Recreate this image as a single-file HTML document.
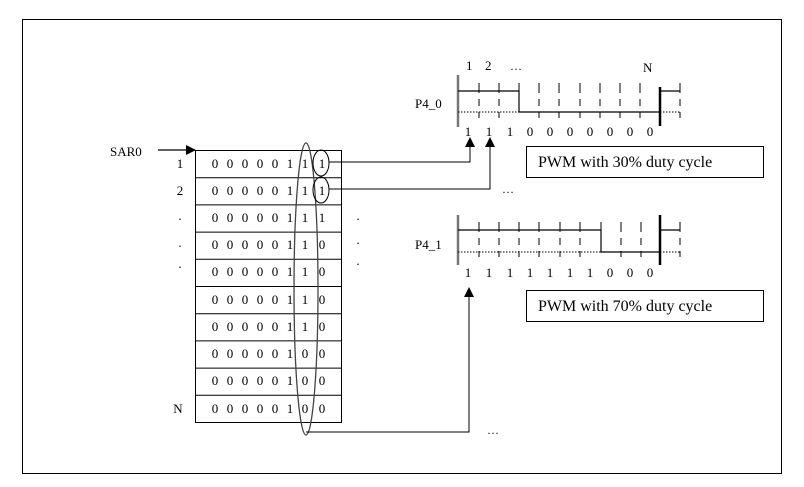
<!DOCTYPE html>
<html><head><style>
body{margin:0;background:#fff;}
svg{display:block;}
text{font-family:"Liberation Serif",serif;fill:#000;}
</style></head><body>
<svg width="804" height="487" viewBox="0 0 804 487" xmlns="http://www.w3.org/2000/svg">
<defs>
<marker id="ah" markerWidth="10" markerHeight="10" refX="9" refY="5" orient="auto" markerUnits="userSpaceOnUse">
<path d="M0,0 L10,5 L0,10 z" fill="#000"/>
</marker>
</defs>
<rect x="22.5" y="19.5" width="759" height="454" fill="none" stroke="#000" stroke-width="1"/>

<!-- SAR0 -->
<text x="110" y="156" font-size="13">SAR0</text>
<line x1="158" y1="150" x2="195" y2="150" stroke="#000" stroke-width="1.2" marker-end="url(#ah)"/>

<!-- table -->
<g stroke="#000" stroke-width="1" fill="none">
<rect x="195.5" y="150.5" width="146" height="272"/>
<line x1="195" y1="177.7" x2="341" y2="177.7"/>
<line x1="195" y1="204.9" x2="341" y2="204.9"/>
<line x1="195" y1="232.1" x2="341" y2="232.1"/>
<line x1="195" y1="259.3" x2="341" y2="259.3"/>
<line x1="195" y1="286.5" x2="341" y2="286.5"/>
<line x1="195" y1="313.7" x2="341" y2="313.7"/>
<line x1="195" y1="340.9" x2="341" y2="340.9"/>
<line x1="195" y1="368.1" x2="341" y2="368.1"/>
<line x1="195" y1="395.3" x2="341" y2="395.3"/>
</g>
<g font-size="13" text-anchor="middle">
<text x="180" y="168">1</text><text x="180" y="195">2</text>
<text x="180" y="220">.</text><text x="180" y="247">.</text><text x="180" y="268">.</text>
<text x="178" y="413">N</text>
<text x="358" y="220">.</text><text x="358" y="244">.</text><text x="358" y="265">.</text>
</g>
<g font-size="13" text-anchor="middle" id="rows">
<!-- rows -->
</g>
<g font-size="13" text-anchor="middle">
<!-- row texts generated inline -->
<g transform="translate(0,168)"><text x="215">0</text><text x="230">0</text><text x="245">0</text><text x="260">0</text><text x="275">0</text><text x="290">1</text><text x="305">1</text><text x="322">1</text></g>
<g transform="translate(0,195)"><text x="215">0</text><text x="230">0</text><text x="245">0</text><text x="260">0</text><text x="275">0</text><text x="290">1</text><text x="305">1</text><text x="322">1</text></g>
<g transform="translate(0,222)"><text x="215">0</text><text x="230">0</text><text x="245">0</text><text x="260">0</text><text x="275">0</text><text x="290">1</text><text x="305">1</text><text x="322">1</text></g>
<g transform="translate(0,249)"><text x="215">0</text><text x="230">0</text><text x="245">0</text><text x="260">0</text><text x="275">0</text><text x="290">1</text><text x="305">1</text><text x="322">0</text></g>
<g transform="translate(0,276)"><text x="215">0</text><text x="230">0</text><text x="245">0</text><text x="260">0</text><text x="275">0</text><text x="290">1</text><text x="305">1</text><text x="322">0</text></g>
<g transform="translate(0,304)"><text x="215">0</text><text x="230">0</text><text x="245">0</text><text x="260">0</text><text x="275">0</text><text x="290">1</text><text x="305">1</text><text x="322">0</text></g>
<g transform="translate(0,331)"><text x="215">0</text><text x="230">0</text><text x="245">0</text><text x="260">0</text><text x="275">0</text><text x="290">1</text><text x="305">1</text><text x="322">0</text></g>
<g transform="translate(0,358)"><text x="215">0</text><text x="230">0</text><text x="245">0</text><text x="260">0</text><text x="275">0</text><text x="290">1</text><text x="305">0</text><text x="322">0</text></g>
<g transform="translate(0,385)"><text x="215">0</text><text x="230">0</text><text x="245">0</text><text x="260">0</text><text x="275">0</text><text x="290">1</text><text x="305">0</text><text x="322">0</text></g>
<g transform="translate(0,413)"><text x="215">0</text><text x="230">0</text><text x="245">0</text><text x="260">0</text><text x="275">0</text><text x="290">1</text><text x="305">0</text><text x="322">0</text></g>
</g>

<!-- ellipses -->
<ellipse cx="306" cy="289" rx="12" ry="146" fill="none" stroke="#444" stroke-width="1.3"/>
<ellipse cx="321" cy="163" rx="8" ry="13" fill="none" stroke="#000" stroke-width="1"/>
<ellipse cx="321" cy="190" rx="8" ry="13" fill="none" stroke="#000" stroke-width="1"/>

<!-- connectors -->
<g stroke="#000" stroke-width="1" fill="none">
<polyline points="329,162 470,162 470,138" marker-end="url(#ah)"/>
<polyline points="329,189 490,189 490,138" marker-end="url(#ah)"/>
<polyline points="306,432 469,432 469,288" marker-end="url(#ah)"/>
</g>
<text x="502" y="193" font-size="12">…</text>
<text x="487" y="434" font-size="12">…</text>

<!-- P4_0 -->
<text x="466" y="70" font-size="13">1</text>
<text x="485" y="70" font-size="13">2</text>
<text x="510" y="70" font-size="12">…</text>
<text x="643" y="72" font-size="13">N</text>
<text x="415" y="108" font-size="13">P4_0</text>
<g stroke="#000" fill="none">
<line x1="458" y1="75" x2="458" y2="127" stroke="#777" stroke-width="2.5"/>
<line x1="660" y1="87" x2="660" y2="126" stroke-width="2.5"/>
<polyline points="458,91 519,91 519,112 660,112" stroke-width="1.2"/>
<line x1="458" y1="112" x2="519" y2="112" stroke-dasharray="1.5,1.5"/>
<line x1="660" y1="91" x2="680" y2="91" stroke-width="1.2"/>
<line x1="660" y1="112" x2="680" y2="112" stroke-dasharray="1.5,1.5"/>
<g stroke-width="1" stroke-dasharray="10,6,7,6,6">
<line x1="479" y1="83" x2="479" y2="120"/><line x1="499" y1="83" x2="499" y2="120"/>
<line x1="539" y1="83" x2="539" y2="120"/><line x1="559" y1="83" x2="559" y2="120"/>
<line x1="580" y1="83" x2="580" y2="120"/><line x1="600" y1="83" x2="600" y2="120"/>
<line x1="620" y1="83" x2="620" y2="120"/><line x1="640" y1="83" x2="640" y2="120"/>
<line x1="680" y1="83" x2="680" y2="120"/>
<line x1="519" y1="83" x2="519" y2="91"/>
</g>
</g>
<g font-size="13" text-anchor="middle" transform="translate(0,136)">
<text x="468">1</text><text x="489">1</text><text x="510">1</text><text x="530">0</text><text x="550">0</text><text x="570">0</text><text x="590">0</text><text x="610">0</text><text x="630">0</text><text x="650">0</text>
</g>
<rect x="526.5" y="146.5" width="237" height="31" fill="none" stroke="#000"/>
<text x="538" y="167" font-size="16">PWM with 30% duty cycle</text>

<!-- P4_1 -->
<text x="415" y="249" font-size="13">P4_1</text>
<g stroke="#000" fill="none">
<line x1="458" y1="215" x2="458" y2="265" stroke="#777" stroke-width="2.5"/>
<line x1="660" y1="215" x2="660" y2="265" stroke-width="2.5"/>
<polyline points="458,230 601,230 601,252 660,252" stroke-width="1.2"/>
<line x1="458" y1="252" x2="601" y2="252" stroke-dasharray="1.5,1.5"/>
<line x1="660" y1="230" x2="680" y2="230" stroke-width="1.2"/>
<line x1="660" y1="252" x2="680" y2="252" stroke-dasharray="1.5,1.5"/>
<g stroke-width="1" stroke-dasharray="10,6,7,6,6">
<line x1="479" y1="222" x2="479" y2="259"/><line x1="499" y1="222" x2="499" y2="259"/>
<line x1="519" y1="222" x2="519" y2="259"/><line x1="539" y1="222" x2="539" y2="259"/>
<line x1="560" y1="222" x2="560" y2="259"/><line x1="580" y1="222" x2="580" y2="259"/>
<line x1="621" y1="222" x2="621" y2="259"/><line x1="641" y1="222" x2="641" y2="259"/>
<line x1="680" y1="222" x2="680" y2="259"/>
<line x1="601" y1="222" x2="601" y2="230"/>
</g>
</g>
<g font-size="13" text-anchor="middle" transform="translate(0,277)">
<text x="468">1</text><text x="489">1</text><text x="510">1</text><text x="530">1</text><text x="550">1</text><text x="570">1</text><text x="590">1</text><text x="610">0</text><text x="630">0</text><text x="650">0</text>
</g>
<rect x="526.5" y="290.5" width="237" height="31" fill="none" stroke="#000"/>
<text x="538" y="311" font-size="16">PWM with 70% duty cycle</text>
</svg>
</body></html>
